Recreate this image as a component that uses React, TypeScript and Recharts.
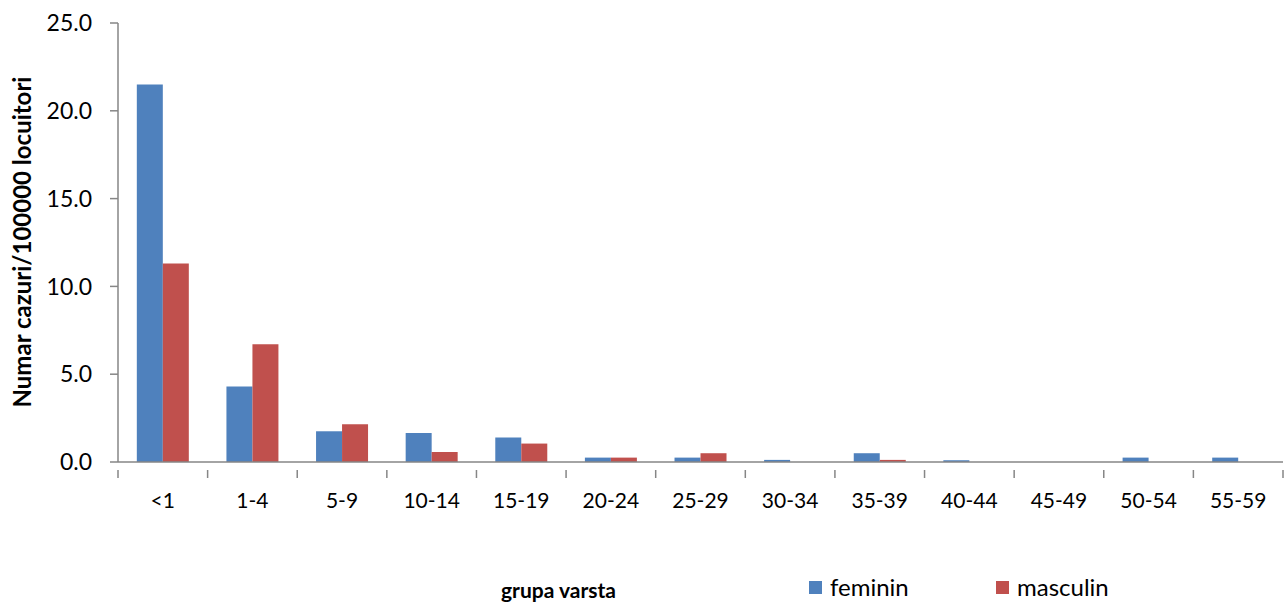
import React from "react";
import { BarChart, Bar, XAxis, YAxis, Legend } from "recharts";

const groups = ["<1", "1-4", "5-9", "10-14", "15-19", "20-24", "25-29", "30-34", "35-39", "40-44", "45-49", "50-54", "55-59"];
const feminin = [21.5, 4.3, 1.75, 1.65, 1.4, 0.25, 0.25, 0.12, 0.5, 0.1, 0, 0.25, 0.25];
const masculin = [11.3, 6.7, 2.15, 0.57, 1.05, 0.25, 0.5, 0, 0.12, 0, 0, 0, 0];
const yTicks = [0, 5, 10, 15, 20, 25];

const data = groups.map((g, i) => ({ grupa: g, feminin: feminin[i], masculin: masculin[i] }));

const W = 1284;
const H = 602;
const LEFT = 118;
const RIGHT = 1;
const FONT = "Lato, 'Open Sans', sans-serif";
const AXIS = "#868686";
const band = (W - LEFT - RIGHT) / groups.length;

const XTick = (props: any) => {
  const { x, y, payload, index } = props;
  const left = x - band / 2;
  return (
    <g>
      <line x1={left} y1={y} x2={left} y2={y + 8} stroke={AXIS} strokeWidth={1.5} />
      {index === groups.length - 1 && (
        <line x1={left + band} y1={y} x2={left + band} y2={y + 8} stroke={AXIS} strokeWidth={1.5} />
      )}
      <text x={x} y={y + 38} textAnchor="middle" fontSize={21} fill="#000" fontFamily={FONT}>
        {payload.value}
      </text>
    </g>
  );
};

// legend row like the excel one: small squares, wide spacing
const LegendBox = (props: any) => {
  const items = props.payload || [];
  return (
    <div style={{ display: "flex", fontFamily: FONT, fontSize: 24, color: "#000", lineHeight: "26px" }}>
      {items.map((it: any) => (
        <div key={it.value} style={{ display: "flex", alignItems: "center", width: 187 }}>
          <span style={{ display: "inline-block", width: 13, height: 13, background: it.color, marginRight: 8 }} />
          <span>{it.value}</span>
        </div>
      ))}
    </div>
  );
};

export default function App() {
  return (
    <div style={{ position: "absolute", left: 0, top: 0, width: W, height: H, background: "#fff" }}>
      <BarChart
        width={W}
        height={H}
        data={data}
        margin={{ top: 23, right: RIGHT, left: 0, bottom: 0 }}
        barCategoryGap="21%"
        barGap={0}
      >
        <XAxis
          dataKey="grupa"
          height={140}
          stroke={AXIS}
          strokeWidth={1.5}
          tickLine={false}
          tick={<XTick />}
          interval={0}
          label={{
            value: "grupa varsta",
            position: "insideBottom",
            offset: 4,
            dx: -142,
            fontFamily: FONT,
            fontSize: 21,
            fontWeight: "bold",
            fill: "#000",
          }}
        />
        <YAxis
          width={LEFT}
          domain={[0, 25]}
          ticks={yTicks}
          tickFormatter={(v: number) => v.toFixed(1)}
          stroke={AXIS}
          strokeWidth={1.5}
          tickSize={8}
          tickMargin={18}
          tick={{ fill: "#000", fontSize: 23, fontFamily: FONT }}
          label={{
            content: () => (
              <text
                x={21}
                y={242}
                transform="rotate(-90 21 242)"
                textAnchor="middle"
                dominantBaseline="central"
                fontFamily={FONT}
                fontSize={24}
                fontWeight="bold"
                fill="#000"
              >
                Numar cazuri/100000 locuitori
              </text>
            ),
          }}
        />
        <Legend
          content={<LegendBox />}
          wrapperStyle={{ position: "absolute", left: 809, top: 574, width: 420, height: 0, overflow: "visible" }}
        />
        <Bar dataKey="feminin" name="feminin" fill="#4F81BD" isAnimationActive={false} />
        <Bar dataKey="masculin" name="masculin" fill="#C0504D" isAnimationActive={false} />
      </BarChart>
    </div>
  );
}
